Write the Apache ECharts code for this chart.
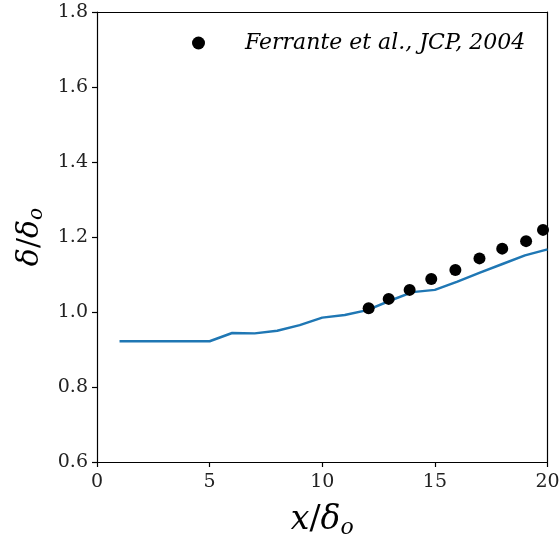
<!DOCTYPE html>
<html><head><meta charset="utf-8">
<script src="https://cdn.jsdelivr.net/npm/echarts@6/dist/echarts.min.js"></script>
<style>html,body{margin:0;padding:0;background:#fff}#c{width:560px;height:542px}</style>
</head><body><div id="c"></div>
<script>
var simX = [1, 2, 3, 4, 5, 6, 7, 8, 9, 10, 11, 12, 13, 14, 15, 16, 17, 18, 19, 20];
var simY = [0.922, 0.922, 0.922, 0.922, 0.922, 0.944, 0.943, 0.950, 0.965, 0.985, 0.992, 1.005, 1.030, 1.053, 1.059, 1.081, 1.105, 1.128, 1.151, 1.167];
var refX = [12.06, 12.95, 13.88, 14.84, 15.91, 16.98, 17.99, 19.05, 19.8];
var refY = [1.010, 1.035, 1.059, 1.088, 1.112, 1.143, 1.169, 1.189, 1.219];
var xTicks = [0, 5, 10, 15, 20];
var yTicks = [0.6, 0.8, 1.0, 1.2, 1.4, 1.6, 1.8];
var refLabel = 'Ferrante et al., JCP, 2004';

var font = '"DejaVu Serif", "Liberation Serif", serif';
var chart = echarts.init(document.getElementById('c'), null, {renderer: 'canvas'});
function pairs(a, b) { return a.map(function (v, i) { return [v, b[i]]; }); }
var titleRichX = {
  i: {fontFamily: font, fontStyle: 'italic', fontSize: 33, color: '#000'},
  n: {fontFamily: font, fontSize: 33, color: '#000'},
  s: {fontFamily: font, fontStyle: 'italic', fontSize: 22, color: '#000', padding: [15, 0, 0, 0]}
};
var titleRichY = {
  i: {fontFamily: font, fontStyle: 'italic', fontSize: 30, color: '#000'},
  n: {fontFamily: font, fontSize: 30, color: '#000'},
  s: {fontFamily: font, fontStyle: 'italic', fontSize: 20, color: '#000', padding: [14, 0, 0, 0]}
};
chart.setOption({
  animation: false,
  backgroundColor: '#fff',
  grid: {left: 97, right: 12.5, top: 12, bottom: 80, containLabel: false, outerBoundsMode: 'none'},
  legend: {
    show: true, top: 27, left: 187, itemWidth: 13, itemHeight: 13, itemGap: 10,
    data: [{name: refLabel, icon: 'circle', itemStyle: {color: '#000', opacity: 1}}],
    textStyle: {fontFamily: font, fontStyle: 'italic', fontSize: 22, color: '#000', padding: [0, 0, 0, 35]}
  },
  xAxis: [{
    type: 'value', min: 0, max: 20, interval: 5, position: 'bottom',
    axisLine: {show: true, onZero: false, lineStyle: {color: '#000', width: 1.2}},
    axisTick: {show: true, inside: false, length: 5, lineStyle: {color: '#000', width: 1.2}},
    axisLabel: {fontFamily: font, fontSize: 19, color: '#222', margin: 11,
      formatter: function (v) { return xTicks.indexOf(v) >= 0 ? String(v) : ''; }},
    splitLine: {show: false},
    name: '{i|x}{n|/}{i|δ}{s|o}', nameLocation: 'middle', nameGap: 40,
    nameTextStyle: {rich: titleRichX}
  }, {
    type: 'value', min: 0, max: 20, position: 'top',
    axisLine: {show: true, onZero: false, lineStyle: {color: '#000', width: 1.2}},
    axisTick: {show: false}, axisLabel: {show: false}, splitLine: {show: false}
  }],
  yAxis: [{
    type: 'value', min: 0.6, max: 1.8, interval: 0.2, position: 'left',
    axisLine: {show: true, onZero: false, lineStyle: {color: '#000', width: 1.2}},
    axisTick: {show: true, inside: false, length: 5, lineStyle: {color: '#000', width: 1.2}},
    axisLabel: {fontFamily: font, fontSize: 19, color: '#222', margin: 9,
      formatter: function (v) { return v.toFixed(1); }},
    splitLine: {show: false},
    name: '{i|δ}{n|/}{i|δ}{s|o}', nameLocation: 'middle', nameGap: 46, nameRotate: 90,
    nameTextStyle: {rich: titleRichY}
  }, {
    type: 'value', min: 0.6, max: 1.8, position: 'right',
    axisLine: {show: true, onZero: false, lineStyle: {color: '#000', width: 1.2}},
    axisTick: {show: false}, axisLabel: {show: false}, splitLine: {show: false}
  }],
  series: [{
    name: 'sim', type: 'line', data: pairs(simX, simY), showSymbol: false, symbol: 'none',
    lineStyle: {color: '#1f77b4', width: 2.5}, itemStyle: {color: '#1f77b4'}, z: 2
  }, {
    name: refLabel, type: 'scatter', data: pairs(refX, refY), symbol: 'circle', symbolSize: 12,
    itemStyle: {color: '#000', opacity: 1}, z: 3
  }]
});
</script></body></html>
